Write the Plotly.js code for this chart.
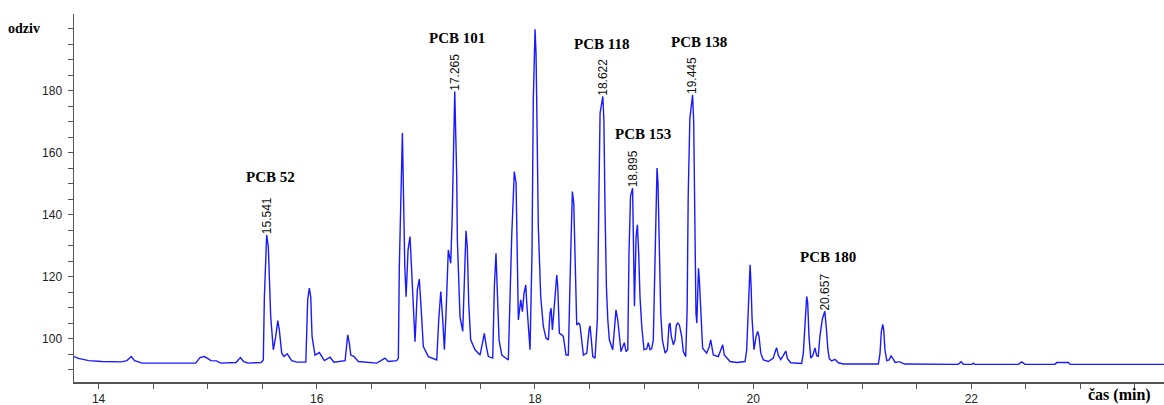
<!DOCTYPE html>
<html>
<head>
<meta charset="utf-8">
<script src="https://cdn.plot.ly/plotly-3.0.1.min.js"></script>
<style>
  html, body { margin: 0; padding: 0; background: #fff; }
  #chart { width: 1164px; height: 405px; }
</style>
</head>
<body>
<div id="chart"></div>
<script>
// ---- Data ----
const retentionTime = [
  13.775, 13.816, 13.91, 14.03, 14.21, 14.26, 14.30, 14.33, 14.40, 14.89,
  14.93, 14.97, 15.01, 15.03, 15.08, 15.12, 15.26, 15.30, 15.33, 15.37,
  15.49, 15.51, 15.52, 15.541, 15.556, 15.566, 15.578, 15.602, 15.624, 15.643,
  15.657, 15.679, 15.70, 15.73, 15.77, 15.817, 15.90, 15.917, 15.932, 15.945,
  15.957, 15.984, 16.024, 16.07, 16.122, 16.158, 16.26, 16.284, 16.299, 16.312,
  16.342, 16.381, 16.55, 16.626, 16.656, 16.733, 16.748, 16.757, 16.773, 16.785,
  16.794, 16.807, 16.819, 16.837, 16.855, 16.871, 16.886, 16.901, 16.922, 16.94,
  16.956, 16.977, 17.023, 17.10, 17.118, 17.137, 17.155, 17.17, 17.185, 17.206,
  17.228, 17.241, 17.265, 17.274, 17.283, 17.289, 17.302, 17.313, 17.338, 17.353,
  17.368, 17.38, 17.393, 17.411, 17.451, 17.497, 17.521, 17.536, 17.552, 17.573,
  17.613, 17.628, 17.643, 17.655, 17.671, 17.696, 17.756, 17.787, 17.802, 17.811,
  17.827, 17.839, 17.848, 17.87, 17.885, 17.90, 17.916, 17.925, 17.94, 17.955,
  17.973, 17.985, 18.001, 18.01, 18.016, 18.031, 18.053, 18.077, 18.102, 18.123,
  18.138, 18.148, 18.16, 18.178, 18.20, 18.209, 18.224, 18.246, 18.26, 18.285,
  18.306, 18.328, 18.343, 18.356, 18.367, 18.383, 18.401, 18.413, 18.444, 18.475,
  18.496, 18.505, 18.517, 18.53, 18.551, 18.572, 18.585, 18.597, 18.622, 18.632,
  18.642, 18.655, 18.668, 18.682, 18.713, 18.731, 18.743, 18.759, 18.774, 18.789,
  18.819, 18.835, 18.851, 18.862, 18.876, 18.895, 18.902, 18.912, 18.927, 18.939,
  18.951, 18.963, 18.979, 19.0, 19.025, 19.039, 19.055, 19.07, 19.085, 19.101,
  19.119, 19.128, 19.14, 19.153, 19.168, 19.193, 19.214, 19.229, 19.238, 19.25,
  19.269, 19.284, 19.296, 19.309, 19.324, 19.345, 19.36, 19.382, 19.395, 19.405,
  19.42, 19.445, 19.455, 19.463, 19.47, 19.476, 19.484, 19.492, 19.499, 19.507,
  19.519, 19.537, 19.574, 19.598, 19.611, 19.623, 19.635, 19.681, 19.712, 19.721,
  19.736, 19.758, 19.788, 19.85, 19.926, 19.941, 19.956, 19.965, 19.972, 19.981,
  19.99, 20.008, 20.027, 20.042, 20.054, 20.07, 20.094, 20.139, 20.185, 20.207,
  20.216, 20.231, 20.253, 20.277, 20.299, 20.314, 20.344, 20.445, 20.46, 20.476,
  20.491, 20.50, 20.512, 20.528, 20.546, 20.567, 20.582, 20.597, 20.612, 20.635,
  20.657, 20.672, 20.685, 20.698, 20.72, 20.75, 20.781, 20.827, 21.148, 21.163,
  21.175, 21.188, 21.197, 21.208, 21.225, 21.246, 21.264, 21.28, 21.301, 21.331,
  21.344, 21.389, 21.881, 21.906, 21.927, 22.006, 22.018, 22.031, 22.431, 22.462,
  22.492, 22.767, 22.783, 22.889, 22.905, 23.766
];
const response = [
  94.3, 93.7, 93.0, 92.7, 92.6, 93.0, 94.3, 93.0, 92.2, 92.2,
  94.0, 94.3, 93.5, 93.0, 92.9, 92.2, 92.4, 94.0, 92.7, 92.2,
  92.4, 93.2, 113.6, 133.5, 129.8, 118.0, 107.2, 96.5, 100.8, 105.9,
  102.9, 95.4, 94.3, 95.2, 93.0, 92.5, 92.5, 112.6, 116.4, 113.6,
  100.8, 94.8, 95.6, 93.0, 94.1, 92.5, 93.0, 101.3, 98.6, 94.8,
  94.3, 92.7, 92.2, 93.8, 92.7, 93.0, 93.8, 123.3, 155.6, 166.4,
  149.1, 123.3, 113.6, 128.7, 133.0, 122.3, 108.3, 99.1, 115.8, 119.3,
  110.4, 97.5, 94.3, 93.2, 106.1, 115.3, 106.1, 96.5, 108.3, 128.7,
  124.4, 138.4, 179.8, 169.6, 152.4, 131.9, 114.7, 107.2, 102.4, 119.0,
  134.9, 129.8, 111.5, 99.7, 96.5, 94.8, 99.7, 101.8, 98.1, 94.3,
  93.8, 116.9, 127.6, 116.9, 99.7, 94.8, 93.2, 133.0, 149.1, 154.0,
  150.2, 119.0, 106.1, 112.6, 108.8, 114.7, 117.4, 111.5, 101.8, 96.5,
  127.6, 177.1, 199.9, 192.2, 177.1, 136.2, 113.6, 104.0, 100.2, 99.7,
  108.3, 109.9, 102.9, 111.5, 120.6, 116.9, 101.8, 101.3, 100.8, 94.8,
  94.8, 127.6, 147.5, 143.8, 122.3, 104.5, 105.1, 104.5, 94.8, 95.4,
  102.9, 104.2, 99.7, 94.3, 93.8, 106.1, 142.7, 172.8, 178.2, 170.6,
  142.7, 116.9, 106.1, 99.7, 96.5, 106.1, 109.4, 106.1, 99.7, 95.9,
  98.8, 95.9, 96.5, 127.6, 146.0, 148.6, 133.0, 110.5, 133.0, 136.8,
  127.6, 113.6, 104.0, 96.5, 96.8, 98.8, 96.5, 96.8, 99.7, 127.6,
  155.1, 150.2, 127.6, 108.3, 99.7, 95.4, 96.5, 104.5, 105.1, 100.8,
  98.1, 99.7, 104.5, 105.1, 104.5, 100.8, 95.9, 94.3, 109.4, 146.4,
  171.1, 178.7, 170.1, 142.2, 122.3, 108.3, 105.1, 119.1, 122.8, 119.1,
  108.3, 97.0, 95.4, 97.5, 99.7, 97.0, 94.8, 94.3, 97.5, 98.1,
  94.8, 93.8, 92.7, 92.4, 92.7, 96.5, 109.4, 121.8, 123.9, 117.4,
  106.7, 96.5, 100.8, 102.4, 100.8, 95.4, 93.2, 92.7, 93.8, 96.4,
  97.1, 94.7, 93.3, 94.7, 96.1, 93.7, 92.3, 92.1, 95.4, 105.1,
  113.7, 111.6, 100.8, 93.8, 94.6, 97.1, 94.6, 94.4, 100.8, 106.5,
  108.9, 103.0, 96.6, 93.6, 92.9, 93.4, 92.3, 91.9, 91.9, 95.4,
  102.4, 104.7, 102.9, 96.5, 93.0, 93.2, 94.5, 93.7, 92.4, 92.6,
  92.6, 91.9, 91.8, 92.6, 91.8, 91.8, 92.2, 91.8, 91.8, 92.6,
  91.8, 91.8, 92.4, 92.4, 91.8, 91.8
];

// Labelled peaks
const peakNames = ['PCB 52', 'PCB 101', 'PCB 118', 'PCB 153', 'PCB 138', 'PCB 180'];
const peakTimes = [15.541, 17.265, 18.622, 18.895, 19.445, 20.657];
const peakTimeLabels = ['15.541', '17.265', '18.622', '18.895', '19.445', '20.657'];

// Axis ticks
const xTickVals = [14, 16, 18, 20, 22];
const xTickText = ['14', '16', '18', '20', '22'];
const yTickVals = [100, 120, 140, 160, 180, 200];
const yTickText = ['100', '120', '140', '160', '180', ''];

// ---- Layout helpers (positions of the compound-name labels, data coords) ----
const nameLabelPos = [
  [15.572, 152.3], [17.285, 197.1], [18.612, 195.2],
  [18.993, 166.1], [19.504, 195.8], [20.682, 126.5]
];

function apexOf(t) {
  let best = 0, bd = Infinity;
  for (let i = 0; i < retentionTime.length; i++) {
    const d = Math.abs(retentionTime[i] - t);
    if (d < bd) { bd = d; best = i; }
  }
  return response[best];
}

const serif = '"Liberation Serif", "Times New Roman", serif';
const sans = '"Liberation Sans", Arial, sans-serif';

const annotations = [];
peakNames.forEach((name, i) => {
  annotations.push({
    x: nameLabelPos[i][0], y: nameLabelPos[i][1], xref: 'x', yref: 'y',
    text: '<b>' + name + '</b>', showarrow: false,
    font: { family: serif, size: 15, color: '#000' },
    xanchor: 'center', yanchor: 'middle'
  });
  annotations.push({
    x: peakTimes[i], y: apexOf(peakTimes[i]), xref: 'x', yref: 'y',
    text: peakTimeLabels[i], showarrow: false, textangle: -90,
    font: { family: sans, size: 12, color: '#111' },
    xanchor: 'center', yanchor: 'bottom', borderpad: 0
  });
});
annotations.push({
  x: -0.0459, y: 200, xref: 'paper', yref: 'y',
  text: '<b>odziv</b>', showarrow: false,
  font: { family: serif, size: 14, color: '#000' },
  xanchor: 'center', yanchor: 'middle'
});
annotations.push({
  x: 0.9595, y: -0.036, xref: 'paper', yref: 'paper',
  text: '<b>čas (min)</b>', showarrow: false,
  font: { family: serif, size: 16, color: '#000' },
  xanchor: 'center', yanchor: 'middle'
});

const trace = {
  x: retentionTime, y: response, type: 'scatter', mode: 'lines',
  line: { color: '#1a1aff', width: 1.4, shape: 'linear' },
  hoverinfo: 'skip'
};

const axisColor = '#555';
const layout = {
  width: 1164, height: 405,
  margin: { l: 74, r: 0, t: 14, b: 23, pad: 0 },
  paper_bgcolor: '#fff', plot_bgcolor: '#fff',
  showlegend: false,
  xaxis: {
    range: [13.775, 23.766], showgrid: false, zeroline: false,
    showline: true, linecolor: axisColor, linewidth: 1.5,
    tickmode: 'array', tickvals: xTickVals, ticktext: xTickText,
    ticks: 'outside', ticklen: 5, tickcolor: axisColor, tickwidth: 1,
    tickfont: { family: sans, size: 12, color: '#222' },
    minor: { dtick: 0.5, tick0: 0, ticks: 'outside', ticklen: 5, tickcolor: axisColor, showgrid: false }
  },
  yaxis: {
    range: [86.1, 204.8], showgrid: false, zeroline: false,
    showline: true, linecolor: axisColor, linewidth: 1.5,
    tickmode: 'array', tickvals: yTickVals, ticktext: yTickText,
    ticks: 'outside', ticklen: 5, tickcolor: axisColor, tickwidth: 1,
    tickfont: { family: sans, size: 12, color: '#222' },
    ticklabelstandoff: 3,
    minor: { dtick: 5, tick0: 0, ticks: 'outside', ticklen: 5, tickcolor: axisColor, showgrid: false }
  },
  annotations: annotations
};

Plotly.newPlot('chart', [trace], layout, { displayModeBar: false, staticPlot: true });
</script>
</body>
</html>
